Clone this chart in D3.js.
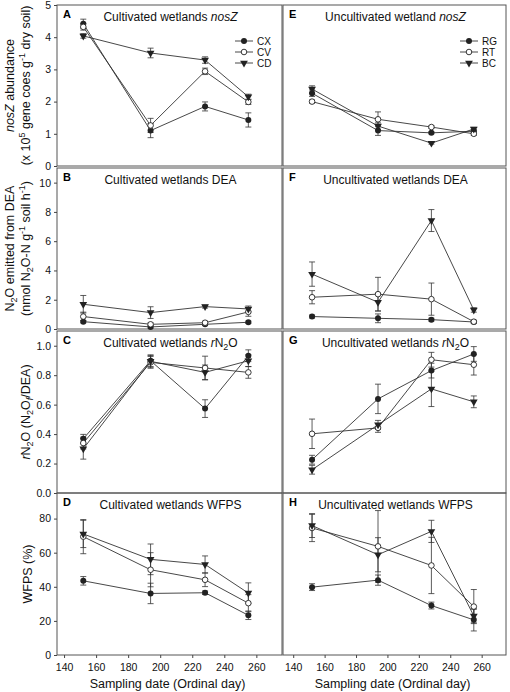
<!DOCTYPE html>
<html><head><meta charset="utf-8">
<script src="https://cdn.jsdelivr.net/npm/d3@7"></script>
<style>body{margin:0;background:#fff}svg{display:block}text{font-family:"Liberation Sans",Arial,sans-serif}</style>
</head><body><svg id="c" width="510" height="692"></svg>
<script>
const days = [152, 194, 228, 255];
const xTicks = [140, 160, 180, 200, 220, 240, 260];
const cultSeries = ["CX", "CV", "CD"];
const uncultSeries = ["RG", "RT", "BC"];

// Panel A: cultivated nosZ
const nosZ_CX = [4.42, 1.10, 1.85, 1.43], nosZ_CX_err = [0.14, 0.22, 0.14, 0.22];
const nosZ_CV = [4.32, 1.26, 2.94, 1.99], nosZ_CV_err = [0.10, 0.22, 0.10, 0.08];
const nosZ_CD = [4.04, 3.51, 3.29, 2.15], nosZ_CD_err = [0.07, 0.15, 0.10, 0.08];
// Panel E: uncultivated nosZ
const nosZ_RG = [2.26, 1.10, 1.03, 1.08], nosZ_RG_err = [0.10, 0.15, 0.03, 0.05];
const nosZ_RT = [2.00, 1.45, 1.21, 1.00], nosZ_RT_err = [0.05, 0.23, 0.04, 0.05];
const nosZ_BC = [2.39, 1.24, 0.71, 1.15], nosZ_BC_err = [0.10, 0.10, 0.03, 0.05];
// Panel B: cultivated DEA
const dea_CX = [0.50, 0.14, 0.32, 0.46], dea_CX_err = [0.08, 0.08, 0.08, 0.08];
const dea_CV = [0.85, 0.32, 0.43, 1.17], dea_CV_err = [0.30, 0.10, 0.10, 0.30];
const dea_CD = [1.69, 1.12, 1.53, 1.37], dea_CD_err = [0.60, 0.40, 0.10, 0.20];
// Panel F: uncultivated DEA
const dea_RG = [0.85, 0.73, 0.64, 0.48], dea_RG_err = [0.10, 0.30, 0.10, 0.08];
const dea_RT = [2.17, 2.38, 2.04, 0.50], dea_RT_err = [0.45, 1.15, 1.10, 0.10];
const dea_BC = [3.75, 1.83, 7.41, 1.30], dea_BC_err = [0.83, 0.60, 0.75, 0.15];
// Panel C: cultivated rN2O
const r_CX = [0.368, 0.898, 0.573, 0.932], r_CX_err = [0.03, 0.04, 0.06, 0.04];
const r_CV = [0.339, 0.887, 0.849, 0.819], r_CV_err = [0.04, 0.04, 0.08, 0.04];
const r_CD = [0.300, 0.894, 0.819, 0.898], r_CD_err = [0.07, 0.04, 0.05, 0.04];
// Panel G: uncultivated rN2O
const r_RG = [0.226, 0.639, 0.831, 0.944], r_RG_err = [0.03, 0.10, 0.05, 0.05];
const r_RT = [0.402, 0.442, 0.905, 0.871], r_RT_err = [0.10, 0.03, 0.05, 0.07];
const r_BC = [0.158, 0.463, 0.707, 0.619], r_BC_err = [0.03, 0.03, 0.12, 0.04];
// Panel D: cultivated WFPS
const w_CX = [43.5, 36.1, 36.5, 23.3], w_CX_err = [2.5, 6.0, 1.0, 2.5];
const w_CV = [69.4, 50.0, 44.1, 30.4], w_CV_err = [10, 10, 4, 5];
const w_CD = [71.0, 56.1, 53.1, 36.3], w_CD_err = [8, 9, 5, 6];
// Panel H: uncultivated WFPS
const w_RG = [39.8, 43.9, 29.0, 20.6], w_RG_err = [2, 3, 2, 6.5];
const w_RT = [74.5, 63.7, 52.5, 28.4], w_RT_err = [8, 21, 16.5, 10];
const w_BC = [75.9, 58.8, 72.5, 22.9], w_BC_err = [7, 10, 6.5, 4];

const yDomains = [[0, 5], [0, 11], [0, 1.1], [0, 95]];
const yTicks = [[0, 1, 2, 3, 4, 5], [0, 2, 4, 6, 8, 10], [0, 0.2, 0.4, 0.6, 0.8, 1.0], [0, 20, 40, 60, 80]];
const yTickFmt = [d3.format("d"), d3.format("d"), d3.format(".1f"), d3.format("d")];

const svg = d3.select("#c");
const cols = [{x0: 57, x1: 282, dom: [135.6, 276]}, {x0: 283, x1: 506, dom: [133.5, 275.5]}];
const rows = [[5, 166], [168, 329], [331, 493], [493, 655]];

const panels = [
  {col: 0, row: 0, letter: "A", title: [["Cultivated wetlands ", false], ["nosZ", true]], data: [[nosZ_CX, nosZ_CX_err], [nosZ_CV, nosZ_CV_err], [nosZ_CD, nosZ_CD_err]], legend: cultSeries},
  {col: 0, row: 1, letter: "B", title: [["Cultivated wetlands DEA", false]], data: [[dea_CX, dea_CX_err], [dea_CV, dea_CV_err], [dea_CD, dea_CD_err]]},
  {col: 0, row: 2, letter: "C", title: "rC", data: [[r_CX, r_CX_err], [r_CV, r_CV_err], [r_CD, r_CD_err]]},
  {col: 0, row: 3, letter: "D", title: [["Cultivated wetlands WFPS", false]], data: [[w_CX, w_CX_err], [w_CV, w_CV_err], [w_CD, w_CD_err]]},
  {col: 1, row: 0, letter: "E", title: [["Uncultivated wetland ", false], ["nosZ", true]], data: [[nosZ_RG, nosZ_RG_err], [nosZ_RT, nosZ_RT_err], [nosZ_BC, nosZ_BC_err]], legend: uncultSeries},
  {col: 1, row: 1, letter: "F", title: [["Uncultivated wetlands DEA", false]], data: [[dea_RG, dea_RG_err], [dea_RT, dea_RT_err], [dea_BC, dea_BC_err]]},
  {col: 1, row: 2, letter: "G", title: "rU", data: [[r_RG, r_RG_err], [r_RT, r_RT_err], [r_BC, r_BC_err]]},
  {col: 1, row: 3, letter: "H", title: [["Uncultivated wetlands WFPS", false]], data: [[w_RG, w_RG_err], [w_RT, w_RT_err], [w_BC, w_BC_err]]}
];

const ink = "#222";
function marker(g, type, x, y) {
  if (type === 0) g.append("circle").attr("cx", x).attr("cy", y).attr("r", 3).attr("fill", ink);
  else if (type === 1) g.append("circle").attr("cx", x).attr("cy", y).attr("r", 2.8).attr("fill", "#fff").attr("stroke", ink).attr("stroke-width", 0.9);
  else g.append("path").attr("d", d3.symbol(d3.symbolTriangle, 26)()).attr("transform", `translate(${x},${y}) rotate(180)`).attr("fill", ink);
}

panels.forEach(p => {
  const c = cols[p.col], r = rows[p.row];
  const x = d3.scaleLinear().domain(c.dom).range([c.x0, c.x1]);
  const y = d3.scaleLinear().domain(yDomains[p.row]).range([r[1], r[0]]);
  const g = svg.append("g");
  g.append("rect").attr("x", c.x0).attr("y", r[0]).attr("width", c.x1 - c.x0).attr("height", r[1] - r[0])
    .attr("fill", "none").attr("stroke", "#555").attr("stroke-width", 1);
  if (p.col === 0) {
    const ax = g.append("g").attr("transform", `translate(${c.x0},0)`)
      .call(d3.axisLeft(y).tickValues(yTicks[p.row]).tickFormat(yTickFmt[p.row]).tickSize(3).tickPadding(3));
    ax.select(".domain").remove();
    ax.selectAll("line").attr("stroke", "#444");
    ax.selectAll("text").attr("font-size", 10.5).attr("fill", "#111").style("font-family", '"Liberation Sans",Arial,sans-serif');
  }
  if (p.row === 3) {
    const ax = g.append("g").attr("transform", `translate(0,${r[1]})`)
      .call(d3.axisBottom(x).tickValues(xTicks).tickSize(3).tickPadding(6));
    ax.select(".domain").remove();
    ax.selectAll("line").attr("stroke", "#444");
    ax.selectAll("text").attr("font-size", 10.5).attr("fill", "#111").style("font-family", '"Liberation Sans",Arial,sans-serif');
  }
  // letter
  g.append("text").attr("x", c.x0 + 6).attr("y", r[0] + 13).attr("font-size", 11).attr("font-weight", "bold").text(p.letter);
  // title
  const tc = (c.x0 + c.x1) / 2 + 1;
  const t = g.append("text").attr("x", tc).attr("y", r[0] + 16).attr("text-anchor", "middle").attr("font-size", 12).attr("fill", "#111");
  if (p.title === "rC" || p.title === "rU") {
    t.append("tspan").text(p.title === "rC" ? "Cultivated wetlands " : "Uncultivated wetlands ");
    t.append("tspan").attr("font-style", "italic").text("r");
    t.append("tspan").text("N");
    t.append("tspan").attr("font-size", 9).attr("dy", 3).text("2");
    t.append("tspan").attr("dy", -3).text("O");
  } else {
    p.title.forEach(([s, it]) => t.append("tspan").attr("font-style", it ? "italic" : null).text(s));
  }
  // error bars, lines, markers
  p.data.forEach(([vals, errs], si) => {
    const pts = days.map((d, i) => [x(d), y(vals[i])]);
    g.append("path").attr("d", d3.line()(pts)).attr("fill", "none").attr("stroke", "#333").attr("stroke-width", 0.9);
    days.forEach((d, i) => {
      const xx = x(d), y1 = y(vals[i] + errs[i]), y2 = y(vals[i] - errs[i]);
      g.append("line").attr("x1", xx).attr("x2", xx).attr("y1", y1).attr("y2", y2).attr("stroke", "#333").attr("stroke-width", 0.8);
      [y1, y2].forEach(yy => g.append("line").attr("x1", xx - 3).attr("x2", xx + 3).attr("y1", yy).attr("y2", yy).attr("stroke", "#333").attr("stroke-width", 0.8));
    });
  });
  p.data.forEach(([vals], si) => {
    days.forEach((d, i) => marker(g, si, x(d), y(vals[i])));
  });
  if (p.legend) {
    const lx0 = p.col === 0 ? 235 : 460, lx1 = lx0 + 18;
    p.legend.forEach((name, si) => {
      const ly = r[0] + 36 + si * 11;
      g.append("line").attr("x1", lx0).attr("x2", lx1).attr("y1", ly).attr("y2", ly).attr("stroke", "#333").attr("stroke-width", 0.9);
      marker(g, si, (lx0 + lx1) / 2, ly);
      g.append("text").attr("x", lx1 + 4).attr("y", ly + 3.5).attr("font-size", 10).attr("fill", "#111").text(name);
    });
  }
});

// Axis titles
function vlabel(cx, cy, build) {
  const t = svg.append("text").attr("transform", `translate(${cx},${cy}) rotate(-90)`).attr("text-anchor", "middle").attr("font-size", 12.5).attr("fill", "#111");
  build(t);
}
const rowMid = i => (rows[i][0] + rows[i][1]) / 2;
vlabel(14, rowMid(0), t => { t.append("tspan").attr("font-style", "italic").text("nosZ"); t.append("tspan").text(" abundance"); });
vlabel(30, rowMid(0), t => {
  t.append("tspan").text("(x 10");
  t.append("tspan").attr("font-size", 9).attr("dy", -5).text("5");
  t.append("tspan").attr("dy", 5).text(" gene coes g");
  t.append("tspan").attr("font-size", 9).attr("dy", -5).text("-1");
  t.append("tspan").attr("dy", 5).text(" dry soil)");
});
vlabel(14, rowMid(1), t => {
  t.append("tspan").text("N");
  t.append("tspan").attr("font-size", 9).attr("dy", 3).text("2");
  t.append("tspan").attr("dy", -3).text("O emitted from DEA");
});
vlabel(30, rowMid(1), t => {
  t.append("tspan").text("(nmol N");
  t.append("tspan").attr("font-size", 9).attr("dy", 3).text("2");
  t.append("tspan").attr("dy", -3).text("O-N g");
  t.append("tspan").attr("font-size", 9).attr("dy", -5).text("-1");
  t.append("tspan").attr("dy", 5).text(" soil h");
  t.append("tspan").attr("font-size", 9).attr("dy", -5).text("-1");
  t.append("tspan").attr("dy", 5).text(")");
});
vlabel(30, rowMid(2), t => {
  t.append("tspan").attr("font-style", "italic").text("r");
  t.append("tspan").text("N");
  t.append("tspan").attr("font-size", 9).attr("dy", 3).text("2");
  t.append("tspan").attr("dy", -3).text("O (N");
  t.append("tspan").attr("font-size", 9).attr("dy", 3).text("2");
  t.append("tspan").attr("dy", -3).text("O");
  t.append("tspan").attr("font-size", 9).attr("dy", 3).attr("font-style", "italic").text("f");
  t.append("tspan").attr("dy", -3).text("/DEA)");
});
vlabel(32, rowMid(3), t => t.text("WFPS (%)"));
cols.forEach(c => {
  svg.append("text").attr("x", (c.x0 + c.x1) / 2 - 2).attr("y", 688).attr("text-anchor", "middle").attr("font-size", 12.5).attr("fill", "#111").text("Sampling date (Ordinal day)");
});
</script></body></html>
